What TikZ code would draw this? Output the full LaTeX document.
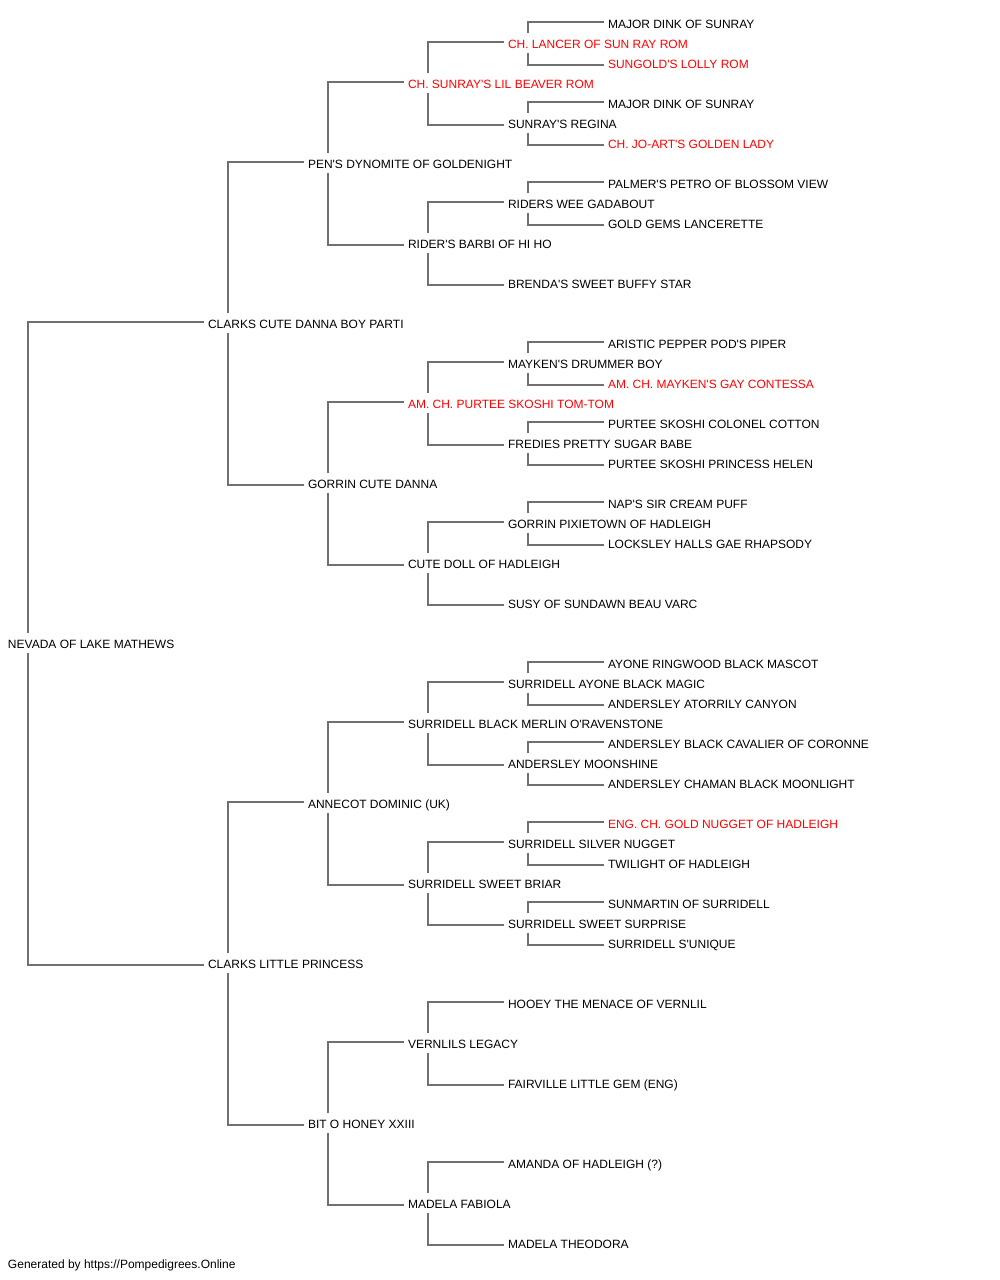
\documentclass[tikz,border=0pt]{standalone}
\usepackage{fontspec}
\newfontfamily\arl{Liberation Sans}
\usetikzlibrary{calc}
\definecolor{conncol}{HTML}{707070}
\definecolor{champ}{HTML}{FF0000}
\tikzset{
  nm/.style={anchor=base west, inner sep=0pt, outer sep=0pt, font=\arl\fontsize{12}{14}\selectfont, text=black},
  ch/.style={nm, text=champ},
  conn/.style={draw=conncol, line width=1.6pt},
}
\newcommand\sireln[2]{\draw[conn] ($(#1.base west)+(20,-15.5)$) |- ($(#2.base west)+(-4,-6.5)$);}
\newcommand\damln[2]{\draw[conn] ($(#1.base west)+(20,4.5)$) |- ($(#2.base west)+(-4,-3.5)$);}
\begin{document}
\begin{tikzpicture}[x=1pt,y=-1pt]
\useasboundingbox (0,0) rectangle (1000,1280);
% generation 0
\node[nm] (r31) at (8,28.5+20*31) {NEVADA OF LAKE MATHEWS};
% generation 1
\node[nm] (r15) at (208,28.5+20*15) {CLARKS CUTE DANNA BOY PARTI};
\node[nm] (r47) at (208,28.5+20*47) {CLARKS LITTLE PRINCESS};
% generation 2
\node[nm] (r7) at (308,28.5+20*7) {PEN'S DYNOMITE OF GOLDENIGHT};
\node[nm] (r23) at (308,28.5+20*23) {GORRIN CUTE DANNA};
\node[nm] (r39) at (308,28.5+20*39) {ANNECOT DOMINIC (UK)};
\node[nm] (r55) at (308,28.5+20*55) {BIT O HONEY XXIII};
% generation 3
\node[ch] (r3) at (408,28.5+20*3) {CH. SUNRAY'S LIL BEAVER ROM};
\node[nm] (r11) at (408,28.5+20*11) {RIDER'S BARBI OF HI HO};
\node[ch] (r19) at (408,28.5+20*19) {AM. CH. PURTEE SKOSHI TOM-TOM};
\node[nm] (r27) at (408,28.5+20*27) {CUTE DOLL OF HADLEIGH};
\node[nm] (r35) at (408,28.5+20*35) {SURRIDELL BLACK MERLIN O'RAVENSTONE};
\node[nm] (r43) at (408,28.5+20*43) {SURRIDELL SWEET BRIAR};
\node[nm] (r51) at (408,28.5+20*51) {VERNLILS LEGACY};
\node[nm] (r59) at (408,28.5+20*59) {MADELA FABIOLA};
% generation 4
\node[ch] (r1) at (508,28.5+20*1) {CH. LANCER OF SUN RAY ROM};
\node[nm] (r5) at (508,28.5+20*5) {SUNRAY'S REGINA};
\node[nm] (r9) at (508,28.5+20*9) {RIDERS WEE GADABOUT};
\node[nm] (r13) at (508,28.5+20*13) {BRENDA'S SWEET BUFFY STAR};
\node[nm] (r17) at (508,28.5+20*17) {MAYKEN'S DRUMMER BOY};
\node[nm] (r21) at (508,28.5+20*21) {FREDIES PRETTY SUGAR BABE};
\node[nm] (r25) at (508,28.5+20*25) {GORRIN PIXIETOWN OF HADLEIGH};
\node[nm] (r29) at (508,28.5+20*29) {SUSY OF SUNDAWN BEAU VARC};
\node[nm] (r33) at (508,28.5+20*33) {SURRIDELL AYONE BLACK MAGIC};
\node[nm] (r37) at (508,28.5+20*37) {ANDERSLEY MOONSHINE};
\node[nm] (r41) at (508,28.5+20*41) {SURRIDELL SILVER NUGGET};
\node[nm] (r45) at (508,28.5+20*45) {SURRIDELL SWEET SURPRISE};
\node[nm] (r49) at (508,28.5+20*49) {HOOEY THE MENACE OF VERNLIL};
\node[nm] (r53) at (508,28.5+20*53) {FAIRVILLE LITTLE GEM (ENG)};
\node[nm] (r57) at (508,28.5+20*57) {AMANDA OF HADLEIGH (?)};
\node[nm] (r61) at (508,28.5+20*61) {MADELA THEODORA};
% generation 5
\node[nm] (r0) at (608,28.5+20*0) {MAJOR DINK OF SUNRAY};
\node[ch] (r2) at (608,28.5+20*2) {SUNGOLD'S LOLLY ROM};
\node[nm] (r4) at (608,28.5+20*4) {MAJOR DINK OF SUNRAY};
\node[ch] (r6) at (608,28.5+20*6) {CH. JO-ART'S GOLDEN LADY};
\node[nm] (r8) at (608,28.5+20*8) {PALMER'S PETRO OF BLOSSOM VIEW};
\node[nm] (r10) at (608,28.5+20*10) {GOLD GEMS LANCERETTE};
\node[nm] (r16) at (608,28.5+20*16) {ARISTIC PEPPER POD'S PIPER};
\node[ch] (r18) at (608,28.5+20*18) {AM. CH. MAYKEN'S GAY CONTESSA};
\node[nm] (r20) at (608,28.5+20*20) {PURTEE SKOSHI COLONEL COTTON};
\node[nm] (r22) at (608,28.5+20*22) {PURTEE SKOSHI PRINCESS HELEN};
\node[nm] (r24) at (608,28.5+20*24) {NAP'S SIR CREAM PUFF};
\node[nm] (r26) at (608,28.5+20*26) {LOCKSLEY HALLS GAE RHAPSODY};
\node[nm] (r32) at (608,28.5+20*32) {AYONE RINGWOOD BLACK MASCOT};
\node[nm] (r34) at (608,28.5+20*34) {ANDERSLEY ATORRILY CANYON};
\node[nm] (r36) at (608,28.5+20*36) {ANDERSLEY BLACK CAVALIER OF CORONNE};
\node[nm] (r38) at (608,28.5+20*38) {ANDERSLEY CHAMAN BLACK MOONLIGHT};
\node[ch] (r40) at (608,28.5+20*40) {ENG. CH. GOLD NUGGET OF HADLEIGH};
\node[nm] (r42) at (608,28.5+20*42) {TWILIGHT OF HADLEIGH};
\node[nm] (r44) at (608,28.5+20*44) {SUNMARTIN OF SURRIDELL};
\node[nm] (r46) at (608,28.5+20*46) {SURRIDELL S'UNIQUE};
% footer
\node[nm] (footer) at (8,28.5+20*62) {Generated by https://Pompedigrees.Online};
% connectors
\sireln{r31}{r15}\damln{r31}{r47}
\sireln{r15}{r7}\damln{r15}{r23}
\sireln{r47}{r39}\damln{r47}{r55}
\sireln{r7}{r3}\damln{r7}{r11}
\sireln{r23}{r19}\damln{r23}{r27}
\sireln{r39}{r35}\damln{r39}{r43}
\sireln{r55}{r51}\damln{r55}{r59}
\sireln{r3}{r1}\damln{r3}{r5}
\sireln{r11}{r9}\damln{r11}{r13}
\sireln{r19}{r17}\damln{r19}{r21}
\sireln{r27}{r25}\damln{r27}{r29}
\sireln{r35}{r33}\damln{r35}{r37}
\sireln{r43}{r41}\damln{r43}{r45}
\sireln{r51}{r49}\damln{r51}{r53}
\sireln{r59}{r57}\damln{r59}{r61}
\sireln{r1}{r0}\damln{r1}{r2}
\sireln{r5}{r4}\damln{r5}{r6}
\sireln{r9}{r8}\damln{r9}{r10}
\sireln{r17}{r16}\damln{r17}{r18}
\sireln{r21}{r20}\damln{r21}{r22}
\sireln{r25}{r24}\damln{r25}{r26}
\sireln{r33}{r32}\damln{r33}{r34}
\sireln{r37}{r36}\damln{r37}{r38}
\sireln{r41}{r40}\damln{r41}{r42}
\sireln{r45}{r44}\damln{r45}{r46}
\end{tikzpicture}
\end{document}
